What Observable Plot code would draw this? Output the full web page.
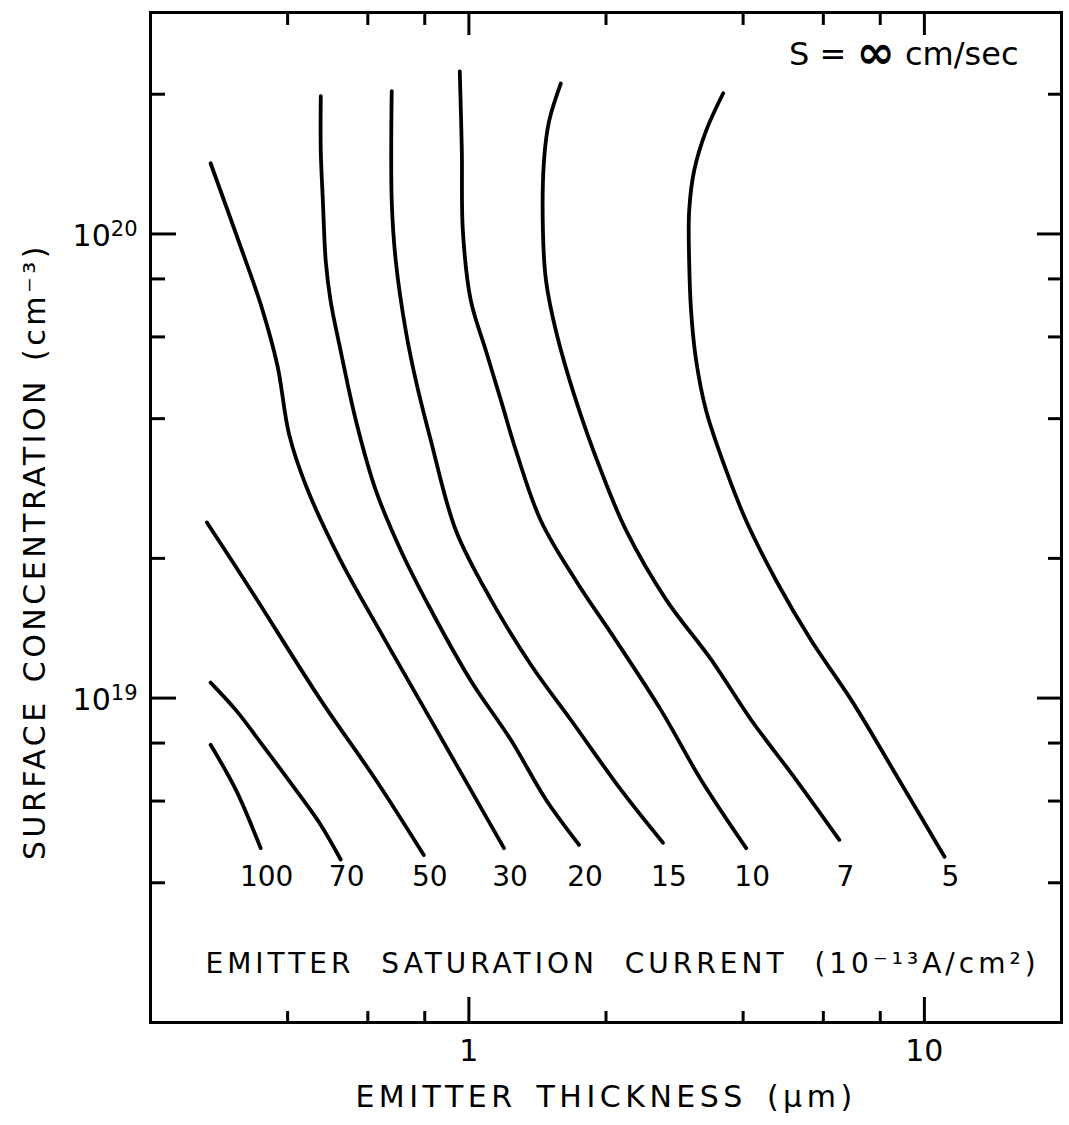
<!DOCTYPE html>
<html>
<head>
<meta charset="utf-8">
<script src="https://cdn.jsdelivr.net/npm/d3@7"></script>
<script src="https://cdn.jsdelivr.net/npm/@observablehq/plot@0.6"></script>
<style>
  body { margin: 0; background: #fff; }
  #chart svg { font-family: "DejaVu Sans", sans-serif; }
</style>
</head>
<body>
<div id="chart"></div>
<script>
// Emitter saturation current labels (10^-13 A/cm^2)
const currentLabels = ["100", "70", "50", "30", "20", "15", "10", "7", "5"];

// Emitter thickness (µm) and surface concentration (cm^-3) along each contour
const thick100 = [0.271, 0.308, 0.349];
const conc100  = [7.93e18, 6.34e18, 4.75e18];

const thick70 = [0.271, 0.308, 0.352, 0.417, 0.473, 0.523];
const conc70  = [1.08e19, 9.42e18, 7.93e18, 6.34e18, 5.33e18, 4.49e18];

const thick50 = [0.266, 0.332, 0.473, 0.625, 0.796];
const conc50  = [2.39e19, 1.71e19, 9.90e18, 6.66e18, 4.59e18];

const thick30 = [0.271, 0.315, 0.350, 0.380, 0.403, 0.440, 0.520, 0.650, 0.840, 1.194];
const conc30  = [1.42e20, 9.42e19, 7.00e19, 5.20e19, 3.70e19, 2.85e19, 2.00e19, 1.35e19, 8.70e18, 4.75e18];

const thick20 = [0.473, 0.473, 0.478, 0.485, 0.497, 0.523, 0.565, 0.625, 0.709, 0.825, 1.010, 1.237, 1.477, 1.745];
const conc20  = [1.98e20, 1.51e20, 1.18e20, 8.75e19, 7.18e19, 5.60e19, 3.96e19, 2.80e19, 2.08e19, 1.55e19, 1.09e19, 8.12e18, 6.04e18, 4.83e18];

const thick15 = [0.677, 0.677, 0.691, 0.727, 0.765, 0.825, 0.936, 1.118, 1.368, 1.675, 2.158, 2.667];
const conc15  = [2.03e20, 1.18e20, 8.75e19, 6.18e19, 4.83e19, 3.59e19, 2.30e19, 1.63e19, 1.18e19, 8.97e18, 6.34e18, 4.88e18];

const thick10 = [0.955, 0.965, 0.970, 1.010, 1.090, 1.176, 1.269, 1.439, 1.718, 2.104, 2.641, 3.235, 4.062];
const conc10  = [2.24e20, 1.51e20, 1.015e20, 7.18e19, 5.60e19, 4.38e19, 3.41e19, 2.41e19, 1.79e19, 1.33e19, 9.42e18, 6.66e18, 4.75e18];

const thick7 = [1.592, 1.500, 1.462, 1.454, 1.477, 1.553, 1.718, 1.950, 2.213, 2.710, 3.404, 4.167, 5.233, 6.504];
const conc7  = [2.11e20, 1.75e20, 1.44e20, 1.015e20, 7.93e19, 6.18e19, 4.38e19, 3.09e19, 2.30e19, 1.63e19, 1.21e19, 8.97e18, 6.66e18, 4.95e18];

const thick5 = [3.617, 3.318, 3.123, 3.045, 3.045, 3.075, 3.155, 3.318, 3.673, 4.062, 4.729, 5.645, 6.914, 8.67, 11.07];
const conc5  = [2.01e20, 1.67e20, 1.37e20, 1.12e20, 8.75e19, 6.83e19, 5.33e19, 4.16e19, 3.09e19, 2.41e19, 1.79e19, 1.33e19, 9.90e18, 6.83e18, 4.55e18];

// Axis ticks
const xMajorTicks = [1, 10];
const xMajorTickLabels = ["1", "10"];
const xMinorTicks = [0.4, 0.6, 0.8, 2, 4, 6, 8];
const yMajorTicks = [1e19, 1e20];
const yTickBase = "10";
const yTickExponents = ["19", "20"];
const yMinorTicks = [4e18, 6e18, 8e18, 2e19, 4e19, 6e19, 8e19, 2e20];

// Texts
const xTitle = "EMITTER THICKNESS (μm)";
const yTitle = "SURFACE CONCENTRATION (cm⁻³)";
const innerTitle = "EMITTER SATURATION CURRENT (10⁻¹³A/cm²)";
const conditionParts = ["S = ", "∞", " cm/sec"];

// Build table
const thickSeries = [thick100, thick70, thick50, thick30, thick20, thick15, thick10, thick7, thick5];
const concSeries  = [conc100, conc70, conc50, conc30, conc20, conc15, conc10, conc7, conc5];
const rows = [];
const ends = [];
currentLabels.forEach((lab, i) => {
  thickSeries[i].forEach((t, j) => rows.push({label: lab, t, n: concSeries[i][j]}));
  const last = thickSeries[i].length - 1;
  ends.push({label: lab, t: thickSeries[i][last], n: concSeries[i][last]});
});

const blank = () => "";
const tickStyle = {strokeWidth: 3, stroke: "black", label: null, tickFormat: blank};

const chart = Plot.plot({
  width: 1069,
  height: 1125,
  marginLeft: 150,
  marginRight: 8,
  marginTop: 12,
  marginBottom: 103,
  x: {type: "log", domain: [0.2, 20]},
  y: {type: "log", domain: [2e18, 3e20]},
  style: {background: "white", color: "black", fontFamily: "DejaVu Sans, sans-serif"},
  marks: [
    // ticks (inward) on all four sides
    Plot.axisX(xMinorTicks, {anchor: "bottom", tickSize: -11, ...tickStyle}),
    Plot.axisX(xMajorTicks, {anchor: "bottom", tickSize: -25, ...tickStyle}),
    Plot.axisX(xMinorTicks, {anchor: "top", tickSize: -12, ...tickStyle}),
    Plot.axisX(xMajorTicks, {anchor: "top", tickSize: -22, ...tickStyle}),
    Plot.axisY(yMinorTicks, {anchor: "left", tickSize: -15, ...tickStyle}),
    Plot.axisY(yMajorTicks, {anchor: "left", tickSize: -26, ...tickStyle}),
    Plot.axisY(yMinorTicks, {anchor: "right", tickSize: -14, ...tickStyle}),
    Plot.axisY(yMajorTicks, {anchor: "right", tickSize: -25, ...tickStyle}),
    // tick labels
    Plot.text(xMajorTicks, {x: (d) => d, frameAnchor: "bottom", dy: 38, fontSize: 30, fill: "black",
      text: (d, i) => xMajorTickLabels[i]}),
    Plot.text(yMajorTicks, {y: (d) => d, frameAnchor: "left", textAnchor: "end", dx: -13, dy: 2, fontSize: 30, fill: "black",
      text: (d, i) => yTickBase + "^" + yTickExponents[i]}),
    Plot.frame({stroke: "black", strokeWidth: 3}),
    // contours
    Plot.line(rows, {x: "t", y: "n", z: "label", curve: "catmull-rom", stroke: "black", strokeWidth: 3.8}),
    // contour labels
    Plot.text(ends, {x: "t", frameAnchor: "bottom", dy: -137, dx: 6, text: "label", fontSize: 28, fill: "black"}),
    // titles
    Plot.text([conditionParts.join("")], {frameAnchor: "top-right", textAnchor: "end", dx: -43, dy: 30, fontSize: 32, fill: "black"}),
    Plot.text([innerTitle], {frameAnchor: "bottom-left", textAnchor: "start", dx: 55, dy: -50, fontSize: 28, fill: "black"}),
    Plot.text([xTitle], {frameAnchor: "bottom", dy: 84, fontSize: 30, fill: "black"}),
    Plot.text([yTitle], {frameAnchor: "left", textAnchor: "middle", dx: -115, dy: 34, rotate: -90, fontSize: 30, fill: "black"})
  ]
});

document.getElementById("chart").appendChild(chart);

// typographic refinements: letter spacing, superscripts, large infinity sign
d3.select(chart).selectAll("text").each(function() {
  const t = this.textContent;
  const s = d3.select(this);
  if (t === innerTitle) s.style("letter-spacing", "4px").style("word-spacing", "14px");
  else if (t === xTitle) s.style("letter-spacing", "4.5px").style("word-spacing", "6px");
  else if (t === yTitle) s.style("letter-spacing", "3.5px").style("word-spacing", "4px");
  else if (t.includes("^")) {
    const [base, exp] = t.split("^");
    s.text(base);
    s.append("tspan").attr("dy", "-0.45em").attr("font-size", "21px").text(exp);
  } else if (t === conditionParts.join("")) {
    s.text(conditionParts[0]);
    s.append("tspan").attr("font-size", "46px").attr("font-weight", "bold").attr("dy", "3").text(conditionParts[1]);
    s.append("tspan").attr("dy", "-3").text(conditionParts[2]);
  }
});
</script>
</body>
</html>
